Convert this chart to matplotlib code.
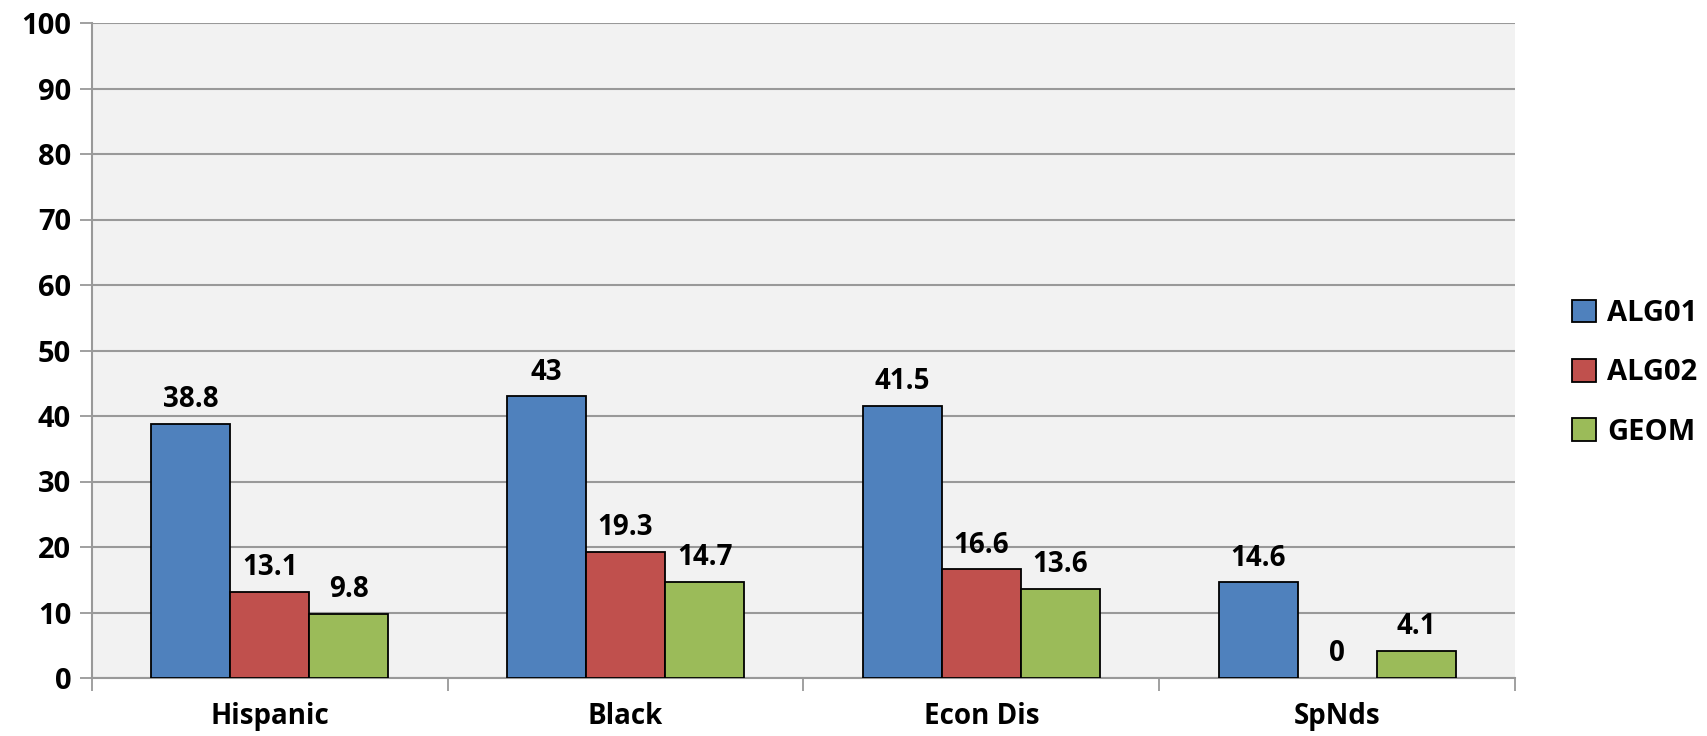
import numpy as np
import matplotlib.pyplot as plt

categories = ['Hispanic', 'Black', 'Econ Dis', 'SpNds']
alg01 = [38.8, 43, 41.5, 14.6]
alg02 = [13.1, 19.3, 16.6, 0]
geom = [9.8, 14.7, 13.6, 4.1]
series_names = ['ALG01', 'ALG02', 'GEOM']
colors = ['#4F81BD', '#C0504D', '#9BBB59']

plt.rcParams['font.family'] = ['Open Sans', 'DejaVu Sans']
plt.rcParams['font.weight'] = 'bold'

fig = plt.figure(figsize=(17.08, 7.36), dpi=100)
ax = fig.add_axes([92 / 1708, 1 - 678 / 736, (1515 - 92) / 1708, (678 - 23) / 736])
ax.set_facecolor('#F2F2F2')

x = np.arange(len(categories))
width = 0.222
for i, (vals, name, col) in enumerate(zip([alg01, alg02, geom], series_names, colors)):
    pos = x + (i - 1) * width
    bars = ax.bar(pos, vals, width, color=col, edgecolor='black', linewidth=1.3,
                  label=name, zorder=3)
    for b, v in zip(bars, vals):
        if v == 0:
            b.set_linewidth(0)
    for p, v in zip(pos, vals):
        ax.annotate(f'{v:g}', (p, v), xytext=(0, 7), textcoords='offset points',
                    ha='center', va='bottom', fontsize=20, fontweight='bold')

ax.set_xlim(-0.5, len(categories) - 0.5)
ax.set_ylim(0, 100)
ax.set_yticks(range(0, 101, 10))
ax.yaxis.grid(True, color='#999999', linewidth=1.5, zorder=0)
ax.set_axisbelow(True)

ax.set_xticks(x)
ax.set_xticklabels(categories, fontsize=20, fontweight='bold')
ax.set_xticks(np.arange(-0.5, len(categories)), minor=True)
ax.tick_params(axis='x', which='major', length=0, pad=17)
ax.tick_params(axis='x', which='minor', length=9, width=1.3, color='#999999')
ax.tick_params(axis='y', length=9, width=1.3, color='#999999', labelsize=21, pad=6)
for lab in ax.get_yticklabels():
    lab.set_fontweight('bold')

for side in ['top', 'right']:
    ax.spines[side].set_visible(False)
ax.spines['left'].set_color('#999999')
ax.spines['left'].set_linewidth(1.5)
ax.spines['bottom'].set_color('#999999')
ax.spines['bottom'].set_linewidth(1.5)

fig.legend(loc='center left', bbox_to_anchor=(1546 / 1708, 1 - 373 / 736),
           frameon=False, handlelength=0.8, handleheight=0.8,
           handletextpad=0.4, labelspacing=1.03, prop={'weight': 'bold', 'size': 21})

fig.savefig('out.png', dpi=100)
